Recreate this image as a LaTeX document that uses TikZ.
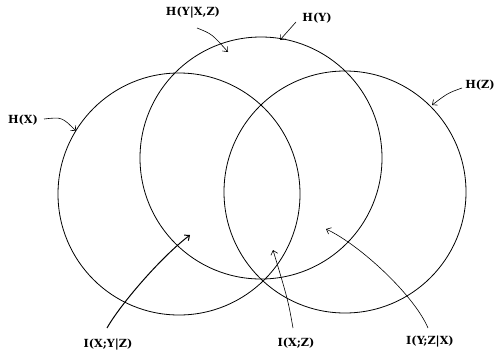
\documentclass[tikz,border=0pt]{standalone}
\usepackage{fontspec}
\setmainfont{DejaVu Serif}
\usetikzlibrary{arrows.meta}
\begin{document}
\begin{tikzpicture}[x=1pt,y=-1pt,
  setc/.style={draw, circle, line width=0.8pt, minimum size=242pt, inner sep=0pt, outer sep=0pt},
  lbl/.style={font=\fontsize{11.2}{13}\selectfont\bfseries, inner sep=1pt},
  ptr/.style={-{Straight Barb[length=4pt,width=7pt]}, line width=0.6pt},
  thickptr/.style={ptr, line width=1pt}]
\useasboundingbox (0,0) rectangle (497,359);
\node[setc] (X) at (179,194) {};
\node[setc] (Y) at (261,158) {};
\node[setc] (Z) at (345,192) {};
\node[lbl] (hyxz) at (193,13) {H(Y|X,Z)};
\node[lbl] (hy) at (317,18) {H(Y)};
\node[lbl] (hx) at (23,120) {H(X)};
\node[lbl] (hz) at (480,85) {H(Z)};
\node[lbl] (ixyz) at (108,345) {I(X;Y|Z)};
\node[lbl] (ixz) at (296,343) {I(X;Z)};
\node[lbl] (iyzx) at (430,342) {I(Y;Z|X)};
\coordinate (thyxz) at (197,28);  \coordinate (phyxz) at (228,52);
\coordinate (thy) at (296,22);    \coordinate (phy) at (280,40);
\coordinate (thx) at (44,119);    \coordinate (phx) at (76,131);
\coordinate (thz) at (462,88);    \coordinate (phz) at (432,105);
\coordinate (tixyz) at (107,328); \coordinate (pixyz) at (190,235);
\coordinate (tixz) at (293,328);  \coordinate (pixz) at (273,250);
\coordinate (tiyzx) at (428,328); \coordinate (piyzx) at (326,229);
\draw[ptr] (thyxz) .. controls (212,34) .. (phyxz);
\draw[ptr] (thy) -- (phy);
\draw[ptr] (thx) .. controls (62,117) .. (phx);
\draw[ptr] (thz) .. controls (448,93) .. (phz);
\draw[thickptr] (tixyz) .. controls (120,305) and (160,258) .. (pixyz);
\draw[ptr] (tixz) .. controls (288,300) .. (pixz);
\draw[ptr] (tiyzx) .. controls (414,295) and (360,245) .. (piyzx);
\end{tikzpicture}
\end{document}
